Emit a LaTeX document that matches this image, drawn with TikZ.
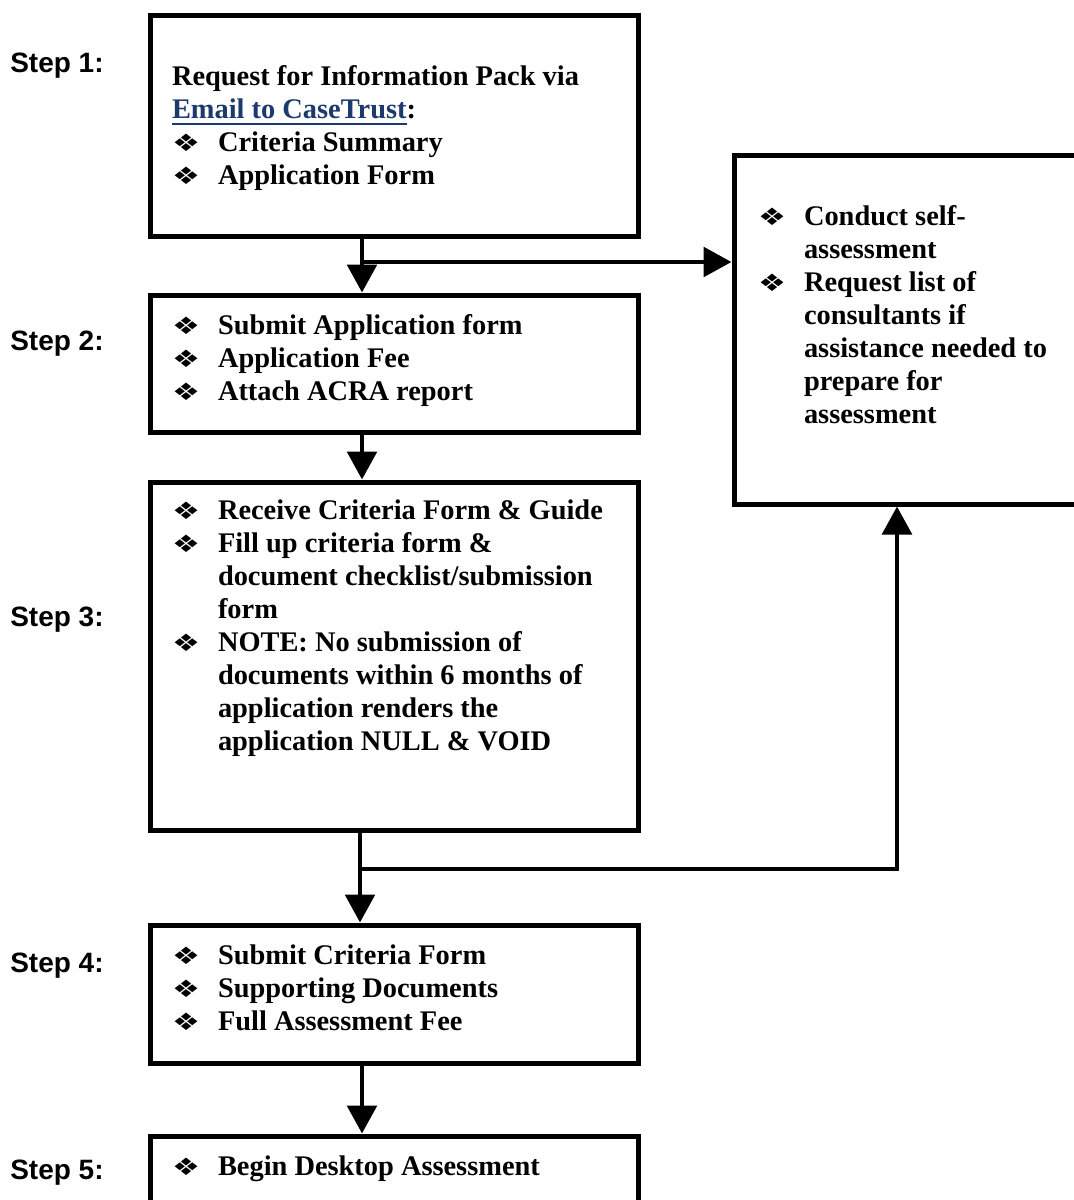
\documentclass[tikz,border=0pt]{standalone}
\usepackage{fontspec}
\usepackage{graphicx}
\setmainfont{Liberation Serif}
\newfontfamily\stepfont{Liberation Sans}
\newfontfamily\dingfont{DejaVu Sans}
\usetikzlibrary{arrows.meta}
\definecolor{linkblue}{RGB}{28,58,108}
\newcommand\bul{\scalebox{1.3}[1]{\dingfont\fontsize{18}{18}\selectfont ❖}}
\newcommand\bl[1]{\hbox{\makebox[34.5pt][l]{\bul}#1}}
\newcommand\cl[1]{\hbox{\hspace{34.5pt}#1}}
\newcommand\pl[1]{\hbox{#1}}
\newcommand\myul[1]{\setbox0\hbox{#1}\rlap{\rule[-5.2pt]{\wd0}{1.7pt}}\box0}
\begin{document}
\begin{tikzpicture}[x=0.75pt,y=-0.75pt,
  box/.style={draw=black,line width=3.75pt,rectangle,inner sep=0pt},
  txt/.style={anchor=base west,inner sep=0pt,outer sep=0pt,
    font=\bfseries\fontsize{21.3}{24.75}\selectfont},
  steplbl/.style={anchor=base west,inner sep=0pt,
    font=\stepfont\bfseries\fontsize{21}{25}\selectfont},
  arr/.style={line width=3.6pt,-{Triangle[length=21pt,width=22pt]}}]
\useasboundingbox (0,0) rectangle (1074,1200);
\clip (0,0) rectangle (1074,1200);
\fill[white] (0,0) rectangle (1074,1200);

% boxes
\node[box,minimum width=366pt,minimum height=165.75pt] (b1) at (394,125.5) {};
\node[box,minimum width=366pt,minimum height=102.75pt] (b2) at (394,363.5) {};
\node[box,minimum width=366pt,minimum height=261pt] (b3) at (394,656) {};
\node[box,minimum width=366pt,minimum height=103.5pt] (b4) at (394,994) {};
\node[box,minimum width=366pt,minimum height=93pt] (b5) at (394,1198) {};
\node[box,minimum width=282pt,minimum height=261.75pt] (rb) at (922,329.5) {};

% step labels
\node[steplbl] (s1) at (10,72.5) {Step 1:};
\node[steplbl] (s2) at (10,350.5) {Step 2:};
\node[steplbl] (s3) at (10,626.5) {Step 3:};
\node[steplbl] (s4) at (10,972.5) {Step 4:};
\node[steplbl] (s5) at (10,1179.5) {Step 5:};

% texts
\node[txt] (t1) at (172,85) {\vtop{%
  \pl{Request for Information Pack via}%
  \pl{\textcolor{linkblue}{\myul{Email to CaseTrust}}:}%
  \bl{Criteria Summary}%
  \bl{Application Form}}};
\node[txt] (t2) at (172,334) {\vtop{%
  \bl{Submit Application form}%
  \bl{Application Fee}%
  \bl{Attach ACRA report}}};
\node[txt] (t3) at (172,519) {\vtop{%
  \bl{Receive Criteria Form \& Guide}%
  \bl{Fill up criteria form \&}%
  \cl{document checklist/submission}%
  \cl{form}%
  \bl{NOTE: No submission of}%
  \cl{documents within 6 months of}%
  \cl{application renders the}%
  \cl{application NULL \& VOID}}};
\node[txt] (rt) at (758,225) {\vtop{%
  \bl{Conduct self-}%
  \cl{assessment}%
  \bl{Request list of}%
  \cl{consultants if}%
  \cl{assistance needed to}%
  \cl{prepare for}%
  \cl{assessment}}};
\node[txt] (t4) at (172,964) {\vtop{%
  \bl{Submit Criteria Form}%
  \bl{Supporting Documents}%
  \bl{Full Assessment Fee}}};
\node[txt] (t5) at (172,1175) {\vtop{%
  \bl{Begin Desktop Assessment}}};

% connectors
\coordinate (m) at (362,0);
\coordinate (m2) at (360,0);
\coordinate (j1) at (362,262);
\coordinate (j2) at (360,869);
\coordinate (k) at (897,869);
\draw[arr] (b1.south -| m) -- (b2.north -| m);
\draw[arr] (j1) -- (j1 -| rb.west);
\draw[arr] (b2.south -| m) -- (b3.north -| m);
\draw[arr] (b3.south -| m2) -- (b4.north -| m2);
\draw[arr,line join=miter] (j2) -- (k) -- (k |- rb.south);
\draw[arr] (b4.south -| m) -- (b5.north -| m);
\end{tikzpicture}
\end{document}
